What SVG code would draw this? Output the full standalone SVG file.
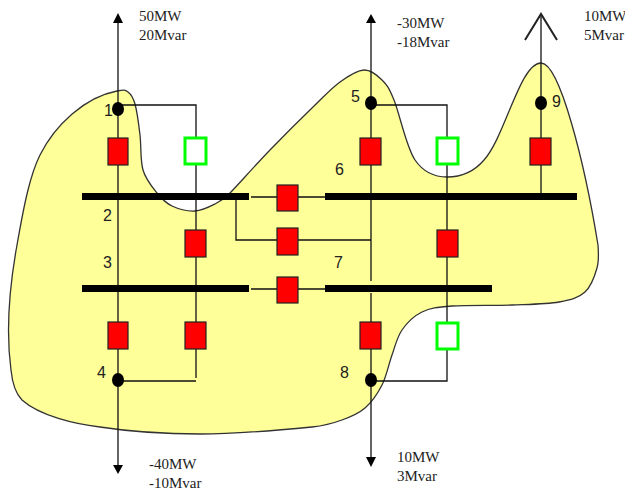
<svg xmlns="http://www.w3.org/2000/svg" width="625" height="490" viewBox="0 0 625 490">
<style>
.w{fill:none;stroke:#111;stroke-width:1.3}
.bus{fill:#000}
.red{fill:#f00;stroke:#222;stroke-width:1.2}
.grn{fill:#fff;stroke:#0f0;stroke-width:3}
.lbl{font-family:"Liberation Serif",serif;font-size:15px;fill:#222}
.num{font-family:"Liberation Sans",sans-serif;font-size:16px;fill:#222}
.hd{fill:#000}
</style>
<rect width="625" height="490" fill="#fff"/>
<path id="region" d="M117 91C124.5 89.7 125 89.8 128 92C131 94.2 133 96.8 135 104C137 111.2 138.7 124 140 135C141.3 146 140.2 160.3 143 170C145.8 179.7 152.2 187 157 193C161.8 199 165.7 203 172 206C178.3 209 187.8 211.3 195 211C202.2 210.7 209.2 207 215 204C220.8 201 225 198 230 193C235 188 256.3 164.2 270 150C283.7 135.8 300.3 119.3 312 108C323.7 96.7 331.3 88.3 340 82C348.7 75.7 357 70.3 364 70C371 69.7 377 75 382 80C387 85 388.5 86.7 394 100C399.5 113.3 406.2 147.2 415 160C423.8 172.8 435.5 177 447 177C458.5 177 472.7 173.3 484 160C505 137 520 63 541 63C560 63 585 165 598 245C598.5 252 599.2 260.2 597 268C594.8 275.8 591.3 286.3 585 292C578.7 297.7 571 299.8 559 302C547 304.2 529.8 304.3 512 305C494.2 305.7 467 304.8 452 306C437 307.2 430.3 308 422 312C413.7 316 407 322.8 402 330C397 337.2 395.3 345.8 392 355C388.7 364.2 386.5 376.2 382 385C377.5 393.8 371.7 402.2 365 408C358.3 413.8 350.8 416.8 342 420C333.2 423.2 321 426 312 427C288.3 429.3 235 434 200 434C165 434 126 431 100 427C75 424 40 416 22 400C14 392 12 380 11 370C7 340 7 300 17 245C24 205 30 175 40 155C55 125 85 97 117 91Z" fill="#ffff99" stroke="#333" stroke-width="1.3"/>
<g id="connectors">
<path class="w" d="M118 20V465"/>
<path class="w" d="M118 105H196V378"/>
<path class="w" d="M118 381H196"/>
<path class="w" d="M371 20V281M371 293V458"/>
<path class="w" d="M371 105H447V381H371"/>
<path class="w" d="M541 14V193"/>
<path class="w" d="M251 197H325M251 289H325"/>
<path class="w" d="M236 200V240H371"/>
<path d="M525 40L541 14L557 40" fill="none" stroke="#222" stroke-width="2"/>
<path class="hd" d="M118 13L123 23H113Z"/>
<path class="hd" d="M371 14L376 23H366Z"/>
<path class="hd" d="M118 474L113 465H123Z"/>
<path class="hd" d="M371 467L366 457H376Z"/>
</g>
<g id="bus2"><rect class="bus" x="82" y="193" width="167" height="7"/><text class="num" x="103" y="221">2</text></g>
<g id="bus3"><rect class="bus" x="82" y="285" width="167" height="7"/><text class="num" x="103" y="268">3</text></g>
<g id="bus6"><rect class="bus" x="325" y="193" width="252" height="7"/><text class="num" x="335" y="175">6</text></g>
<g id="bus7"><rect class="bus" x="325" y="285" width="167" height="7"/><text class="num" x="334" y="268">7</text></g>
<g id="node1"><ellipse cx="118" cy="109" rx="6" ry="7"/><text class="num" x="104" y="116">1</text></g>
<g id="node4"><ellipse cx="118" cy="380" rx="6" ry="7"/><text class="num" x="97" y="378">4</text></g>
<g id="node5"><ellipse cx="371" cy="103" rx="6" ry="7"/><text class="num" x="351" y="102">5</text></g>
<g id="node8"><ellipse cx="371" cy="380" rx="6" ry="7"/><text class="num" x="340" y="378">8</text></g>
<g id="node9"><ellipse cx="541" cy="103" rx="6" ry="7"/><text class="num" x="552" y="107">9</text></g>
<g id="breakers">
<rect class="red" x="108" y="138" width="20" height="27"/>
<rect class="red" x="108" y="322" width="20" height="27"/>
<rect class="red" x="185" y="230" width="21" height="27"/>
<rect class="red" x="185" y="322" width="21" height="27"/>
<rect class="red" x="277" y="185" width="21" height="26"/>
<rect class="red" x="277" y="228" width="21" height="27"/>
<rect class="red" x="277" y="277" width="21" height="26"/>
<rect class="red" x="360" y="138" width="21" height="27"/>
<rect class="red" x="360" y="322" width="21" height="27"/>
<rect class="red" x="437" y="230" width="21" height="27"/>
<rect class="red" x="530" y="138" width="21" height="27"/>
<rect class="grn" x="185" y="138" width="21" height="26"/>
<rect class="grn" x="437" y="138" width="21" height="26"/>
<rect class="grn" x="437" y="323" width="21" height="26"/>
</g>
<g id="labels">
<text class="lbl" x="139" y="21">50MW</text><text class="lbl" x="139" y="40">20Mvar</text>
<text class="lbl" x="397" y="28">-30MW</text><text class="lbl" x="397" y="47">-18Mvar</text>
<text class="lbl" x="584" y="21">10MW</text><text class="lbl" x="584" y="40">5Mvar</text>
<text class="lbl" x="149" y="469">-40MW</text><text class="lbl" x="149" y="488">-10Mvar</text>
<text class="lbl" x="397" y="462">10MW</text><text class="lbl" x="397" y="481">3Mvar</text>
</g>
</svg>
